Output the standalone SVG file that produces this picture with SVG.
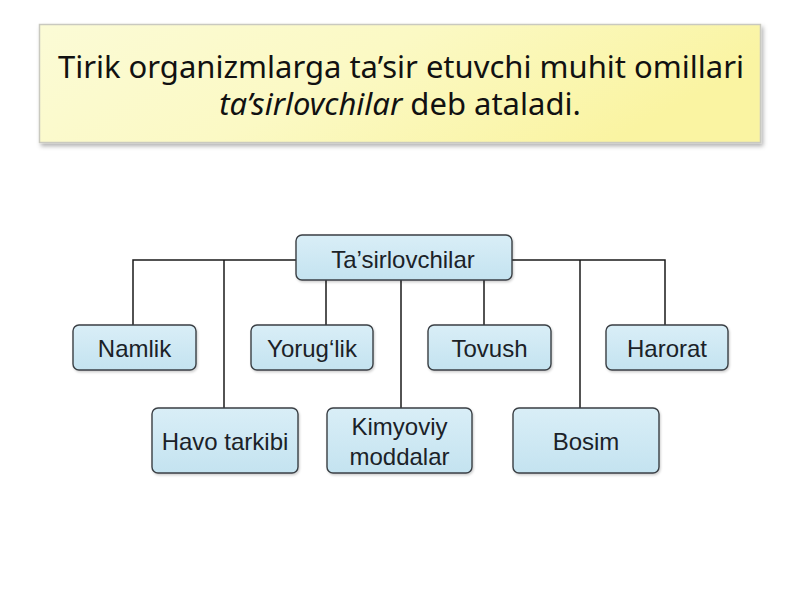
<svg xmlns="http://www.w3.org/2000/svg" width="800" height="600" viewBox="0 0 800 600">
<defs>
<linearGradient id="yel" x1="0" y1="0" x2="1" y2="0.3">
<stop offset="0" stop-color="#fbfbd6"/>
<stop offset="0.5" stop-color="#fbf9c4"/>
<stop offset="1" stop-color="#faf4a2"/>
</linearGradient>
<linearGradient id="blu" x1="0" y1="0" x2="0" y2="1">
<stop offset="0" stop-color="#d9eef7"/>
<stop offset="1" stop-color="#c4e3f0"/>
</linearGradient>
<filter id="sh" x="-10%" y="-10%" width="120%" height="130%">
<feDropShadow dx="2" dy="3" stdDeviation="2" flood-color="#000" flood-opacity="0.3"/>
</filter>
<filter id="sh2" x="-10%" y="-10%" width="120%" height="130%">
<feDropShadow dx="1" dy="1.5" stdDeviation="1" flood-color="#000" flood-opacity="0.2"/>
</filter>
</defs>
<style>
.box{fill:url(#blu);stroke:#3a3f44;stroke-width:1.4;filter:url(#sh2)}
.lbl{font-family:"Liberation Sans",Arial,sans-serif;font-size:24px;fill:#1b2228;text-anchor:middle}
.ttl{font-family:"Noto Sans","Open Sans",sans-serif;font-size:31px;fill:#111;text-anchor:middle}
.con{stroke:#1a1a1a;stroke-width:1.5;fill:none}
</style>
<rect width="800" height="600" fill="#ffffff"/>
<g id="title">
<rect x="39.5" y="24.5" width="721" height="118" fill="url(#yel)" stroke="#c9c9c0" stroke-width="1.5" filter="url(#sh)"/>
<text class="ttl" x="401" y="78">Tirik organizmlarga ta’sir etuvchi muhit omillari</text>
<text class="ttl" x="400" y="115"><tspan font-style="italic">ta’sirlovchilar</tspan> deb ataladi.</text>
</g>
<g id="connectors">
<polyline class="con" points="296,260 133,260 133,325"/>
<line class="con" x1="224" y1="260" x2="224" y2="408"/>
<polyline class="con" points="512,260 665,260 665,325"/>
<line class="con" x1="580" y1="260" x2="580" y2="408"/>
<line class="con" x1="326" y1="280" x2="326" y2="325"/>
<line class="con" x1="401" y1="280" x2="401" y2="408"/>
<line class="con" x1="484" y1="280" x2="484" y2="325"/>
</g>
<g id="root">
<rect class="box" x="296" y="235" width="216" height="45" rx="6"/>
<text class="lbl" x="403" y="268" font-size="25">Ta’sirlovchilar</text>
</g>
<g id="namlik">
<rect class="box" x="73" y="325" width="123" height="45" rx="6"/>
<text class="lbl" x="134.5" y="357">Namlik</text>
</g>
<g id="yoruglik">
<rect class="box" x="251" y="325" width="122" height="45" rx="6"/>
<text class="lbl" x="312" y="357">Yorug‘lik</text>
</g>
<g id="tovush">
<rect class="box" x="428" y="325" width="123" height="45" rx="6"/>
<text class="lbl" x="489.5" y="357">Tovush</text>
</g>
<g id="harorat">
<rect class="box" x="606" y="325" width="122" height="45" rx="6"/>
<text class="lbl" x="667" y="357">Harorat</text>
</g>
<g id="havo">
<rect class="box" x="152" y="408" width="146" height="65" rx="6"/>
<text class="lbl" x="225" y="450">Havo tarkibi</text>
</g>
<g id="kimyoviy">
<rect class="box" x="327" y="408" width="145" height="65" rx="6"/>
<text class="lbl" x="399.5" y="435">Kimyoviy</text>
<text class="lbl" x="399.5" y="465">moddalar</text>
</g>
<g id="bosim">
<rect class="box" x="513" y="408" width="146" height="65" rx="6"/>
<text class="lbl" x="586" y="450">Bosim</text>
</g>
</svg>
